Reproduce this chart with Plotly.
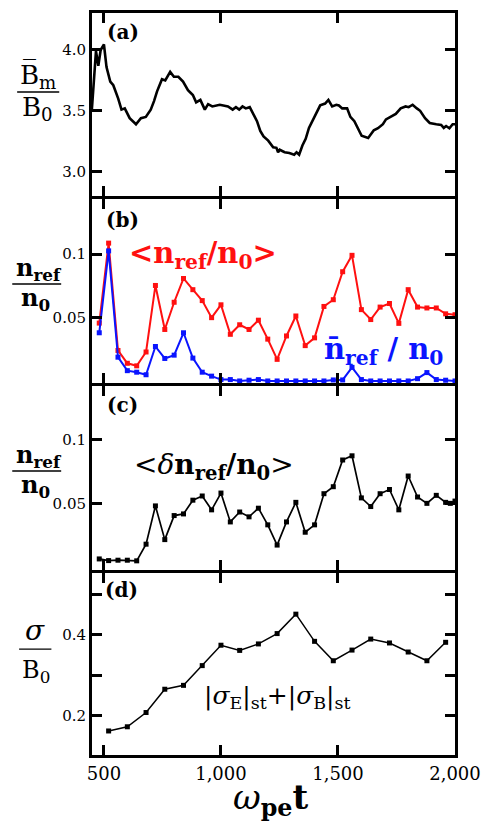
import plotly.graph_objects as go

# ---------------- data ----------------
# (a) mean magnetic field, Bm/B0
t_bm = [448, 466, 476, 486, 500, 511, 527, 540, 561, 575, 589, 610, 637, 658, 679,
        700, 714, 727, 748, 762, 783, 799, 818, 838, 859, 880, 894, 912, 931, 945,
        963, 977, 995, 1030, 1050, 1064, 1078, 1092, 1106, 1123, 1140, 1154, 1168,
        1182, 1202, 1223, 1237, 1244, 1251, 1272, 1292, 1313, 1323, 1334, 1348, 1362,
        1376, 1390, 1404, 1424, 1445, 1459, 1475, 1493, 1504, 1518, 1539, 1553, 1570,
        1584, 1601, 1629, 1653, 1671, 1692, 1705, 1726, 1747, 1768, 1789, 1802, 1819,
        1837, 1851, 1872, 1892, 1920, 1941, 1952, 1962, 1976, 1990, 2000]
bm = [3.50, 3.99, 3.87, 4.00, 4.045, 3.86, 3.74, 3.71, 3.60, 3.51, 3.52, 3.44, 3.39,
      3.44, 3.45, 3.51, 3.58, 3.66, 3.76, 3.75, 3.82, 3.78, 3.78, 3.74, 3.67, 3.63,
      3.57, 3.59, 3.51, 3.555, 3.536, 3.54, 3.55, 3.536, 3.51, 3.53, 3.51, 3.536, 3.52,
      3.53, 3.47, 3.415, 3.335, 3.29, 3.255, 3.20, 3.196, 3.16, 3.18, 3.16, 3.153, 3.14,
      3.16, 3.14, 3.215, 3.27, 3.36, 3.415, 3.475, 3.545, 3.56, 3.59, 3.536, 3.55, 3.544,
      3.52, 3.52, 3.45, 3.415, 3.36, 3.295, 3.277, 3.34, 3.357, 3.39, 3.43, 3.45, 3.475,
      3.52, 3.536, 3.53, 3.55, 3.52, 3.50, 3.44, 3.40, 3.39, 3.384, 3.36, 3.375, 3.357,
      3.39, 3.39]

# (b) reflected density: average and mean
t_ref = [480, 520, 560, 600, 640, 680, 720, 760, 800, 840, 880, 920, 960, 1000,
         1040, 1080, 1120, 1160, 1200, 1240, 1280, 1320, 1360, 1400, 1440, 1480,
         1520, 1560, 1600, 1640, 1680, 1720, 1760, 1800, 1840, 1880, 1920, 1960, 2000]
n_avg = [0.0457, 0.1086, 0.0242, 0.0141, 0.0121, 0.0230, 0.0753, 0.0407, 0.0621,
         0.0808, 0.0720, 0.0634, 0.0500, 0.0601, 0.0369, 0.0444, 0.0407, 0.0480,
         0.0331, 0.0172, 0.0356, 0.0513, 0.0280, 0.0341, 0.0588, 0.0641, 0.0861,
         0.0990, 0.0563, 0.0485, 0.0583, 0.0611, 0.0455, 0.0720, 0.0583, 0.0576,
         0.0576, 0.0530, 0.0523]
n_mean = [0.0381, 0.1025, 0.0189, 0.0083, 0.0071, 0.0051, 0.0273, 0.0179, 0.0205,
          0.0381, 0.0182, 0.0071, 0.0040, 0.0013, 0.0013, 0.0002, 0.0008, 0.0013,
          0.0002, 0.0002, 0.0002, 0.0002, 0.0002, 0.0002, 0.0002, 0.0010, 0.0010,
          0.0109, 0.0013, 0.0002, 0.0002, 0.0002, 0.0002, 0.0002, 0.0020, 0.0068,
          0.0013, 0.0008, 0.0002]

# (c) fluctuating reflected density
t_dn = [480, 520, 560, 600, 640, 680, 720, 760, 800, 840, 880, 920, 960, 1000,
        1040, 1080, 1120, 1160, 1200, 1240, 1280, 1320, 1360, 1400, 1440, 1480,
        1520, 1560, 1600, 1640, 1680, 1720, 1760, 1800, 1840, 1880, 1920, 1960,
        1980, 2000]
dn = [0.0063, 0.0050, 0.0053, 0.0053, 0.0048, 0.0179, 0.0480, 0.0215, 0.0404,
      0.0417, 0.0525, 0.0558, 0.0449, 0.0581, 0.0354, 0.0432, 0.0394, 0.0462,
      0.0331, 0.0172, 0.0354, 0.0508, 0.0273, 0.0331, 0.0576, 0.0631, 0.0841,
      0.0874, 0.0543, 0.0475, 0.0576, 0.0609, 0.0449, 0.0715, 0.0550, 0.0500,
      0.0563, 0.0508, 0.0500, 0.0518]

# (d) stochastic sigma
t_sig = [520, 600, 680, 760, 840, 920, 1000, 1080, 1160, 1240, 1320, 1400, 1480,
         1560, 1640, 1720, 1800, 1880, 1960]
sig = [0.1624, 0.1728, 0.2080, 0.2656, 0.2752, 0.3240, 0.3744, 0.3616, 0.3776,
       0.4032, 0.4512, 0.3840, 0.3360, 0.3624, 0.3896, 0.3800, 0.3576, 0.3360, 0.3816]

x_ticks = [500, 1000, 1500, 2000]
x_ticktext = ["500", "1,000", "1,500", "2,000"]

# ---------------- layout geometry (pixels) ----------------
W, H = 490, 824
LW = 3.0                      # frame line width
# centre lines of the frame
L, R = 90, 464
bounds = [8, 195, 383, 571, 757]
# plot area = inside edge of the frame lines
PL, PR = L + LW / 2, R - LW / 2
PT, PB = bounds[0] + LW / 2, bounds[-1] - LW / 2


def fx(px):
    return (px - PL) / (PR - PL)


def fy(py):
    return (PB - py) / (PB - PT)


# neighbouring panels overlap by one line width so shared borders coincide
domains = [[fy(bounds[i + 1] - LW / 2), fy(bounds[i] + LW / 2)] for i in range(4)]

SERIF = "DejaVu Serif"
BLACK = "#000000"
RED = "#ff1010"
BLUE = "#0a14ff"

fig = go.Figure()

fig.add_trace(go.Scatter(x=t_bm, y=bm, mode="lines", xaxis="x", yaxis="y",
                         line=dict(color=BLACK, width=2.6)))
fig.add_trace(go.Scatter(x=t_ref, y=n_avg, mode="lines+markers", xaxis="x2", yaxis="y2",
                         line=dict(color=RED, width=2),
                         marker=dict(symbol="square", size=5, color=RED)))
fig.add_trace(go.Scatter(x=t_ref, y=n_mean, mode="lines+markers", xaxis="x2", yaxis="y2",
                         line=dict(color=BLUE, width=2),
                         marker=dict(symbol="square", size=5, color=BLUE)))
fig.add_trace(go.Scatter(x=t_dn, y=dn, mode="lines+markers", xaxis="x3", yaxis="y3",
                         line=dict(color=BLACK, width=1.7),
                         marker=dict(symbol="square", size=5, color=BLACK)))
fig.add_trace(go.Scatter(x=t_sig, y=sig, mode="lines+markers", xaxis="x4", yaxis="y4",
                         line=dict(color=BLACK, width=1.5),
                         marker=dict(symbol="square", size=5, color=BLACK)))

y_ranges = [[2.80, 4.304], [-0.0014, 0.1433], [-0.0024, 0.1423], [0.103, 0.553]]
y_tickvals = [[3.0, 3.5, 4.0], [0.05, 0.1], [0.05, 0.1], [0.2, 0.3, 0.4, 0.5]]
y_ticktext = [["3.0", "3.5", "4.0"], ["0.05", "0.1"], ["0.05", "0.1"],
              ["0.2", "", "0.4", ""]]

layout = dict(
    width=W, height=H,
    margin=dict(l=PL, r=W - PR, t=PT, b=H - PB, pad=0),
    paper_bgcolor="white", plot_bgcolor="white",
    showlegend=False,
    font=dict(family=SERIF, color=BLACK),
)

for i in range(4):
    xs = "xaxis" if i == 0 else f"xaxis{i + 1}"
    ys = "yaxis" if i == 0 else f"yaxis{i + 1}"
    ya = "y" if i == 0 else f"y{i + 1}"
    xa = "x" if i == 0 else f"x{i + 1}"
    layout[xs] = dict(
        domain=[0, 1], anchor=ya, range=[449, 2000],
        tickvals=x_ticks, ticktext=x_ticktext, showticklabels=(i == 3),
        ticks="inside", ticklen=10, tickwidth=3, tickcolor=BLACK,
        showline=True, linewidth=LW, linecolor=BLACK, mirror="ticks",
        showgrid=False, zeroline=False,
        tickfont=dict(family=SERIF, size=18, color=BLACK),
    )
    if i > 0:
        layout[xs]["matches"] = "x"
    layout[ys] = dict(
        domain=domains[i], anchor=xa, range=y_ranges[i],
        tickvals=y_tickvals[i], ticktext=y_ticktext[i],
        ticks="inside", ticklen=10, tickwidth=3, tickcolor=BLACK,
        showline=True, linewidth=LW, linecolor=BLACK, mirror="ticks",
        showgrid=False, zeroline=False,
        tickfont=dict(family=SERIF, size=15, color=BLACK),
    )

fig.update_layout(**layout)

annotations = []
shapes = []


def text(px, py, s, size, color=BLACK, xanchor="center", yanchor="middle"):
    annotations.append(dict(x=fx(px), y=fy(py), xref="paper", yref="paper",
                            text=s, showarrow=False, xanchor=xanchor, yanchor=yanchor,
                            font=dict(family=SERIF, size=size, color=color)))


def hbar(px0, px1, py, width=1.5):
    shapes.append(dict(type="line", xref="paper", yref="paper",
                       x0=fx(px0), x1=fx(px1), y0=fy(py), y1=fy(py),
                       line=dict(color=BLACK, width=width)))


# panel tags
text(123, 29, "<b>(a)</b>", 20)
text(123, 218, "<b>(b)</b>", 20)
text(123, 404, "<b>(c)</b>", 20)
text(122, 590, "<b>(d)</b>", 20)

# y-axis fraction labels
text(36, 73, "B\u0305<sub>m</sub>", 26)
hbar(15, 58, 89)
text(36, 106, "B<sub>0</sub>", 26)

text(37, 267, "<b>n<sub>ref</sub></b>", 24)
hbar(10, 60, 282)
text(34, 297, "<b>n<sub>0</sub></b>", 24)

text(37, 455, "<b>n<sub>ref</sub></b>", 24)
hbar(10, 60, 470)
text(34, 485, "<b>n<sub>0</sub></b>", 24)

text(33, 630, "<i>σ</i>", 28)
hbar(17, 50, 649, 1.2)
text(34, 672, "B<sub>0</sub>", 24)

# in-panel series labels
text(205, 253, "<b>&lt;n<sub>ref</sub>/n<sub>0</sub>&gt;</b>", 29, RED)
text(389, 349, "<b>n\u0304<sub>ref</sub> / n<sub>0</sub></b>", 29, BLUE)
text(216, 465, "&lt;<i>δ</i><b>n<sub>ref</sub>/n<sub>0</sub></b>&gt;", 28)
text(281, 697, "|<i>σ</i><sub>E</sub>|<sub>st</sub>+|<i>σ</i><sub>B</sub>|<sub>st</sub>", 25)

# x-axis title
text(274, 800, "<i>ω</i><sub><b>pe</b></sub><b>t</b>", 34)

fig.update_layout(annotations=annotations, shapes=shapes)

fig.write_html("out.html")
